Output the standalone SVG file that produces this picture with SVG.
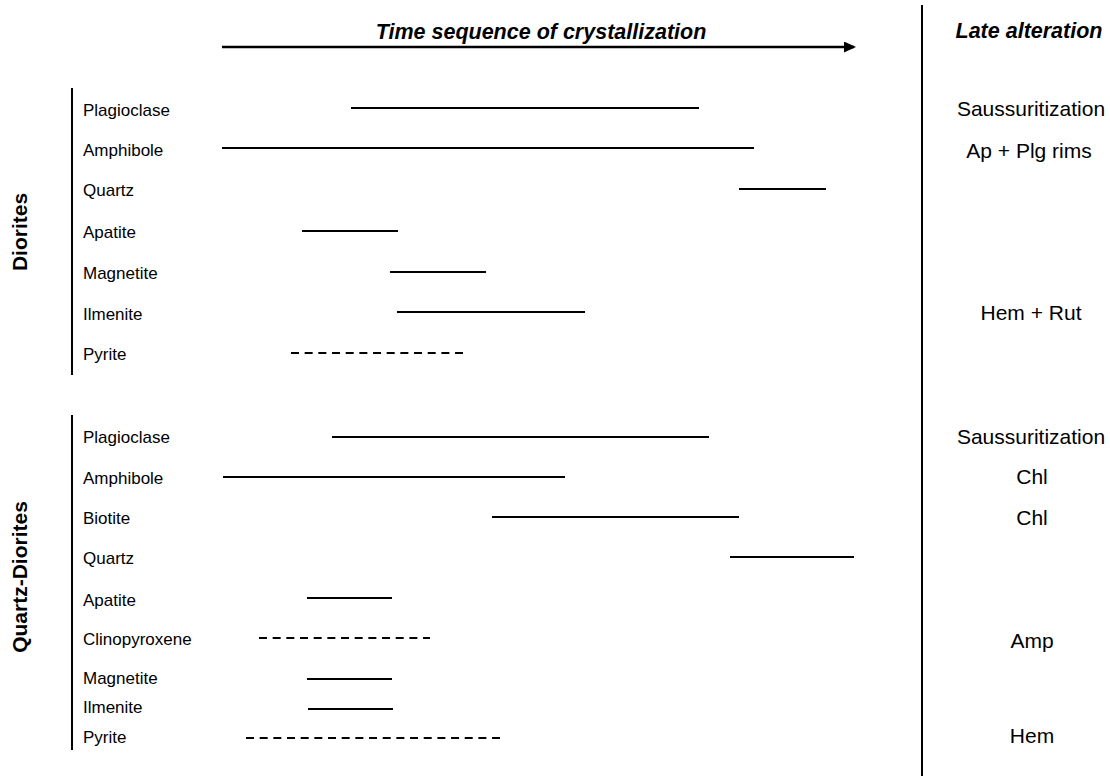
<svg xmlns="http://www.w3.org/2000/svg" width="1110" height="776" viewBox="0 0 1110 776">
<style>
.lbl{font-family:"Liberation Sans",Arial,sans-serif;font-size:17px;fill:#000}
.alt{font-family:"Liberation Sans",Arial,sans-serif;font-size:21px;fill:#000;text-anchor:middle}
.hd{font-family:"Liberation Sans",Arial,sans-serif;font-size:21.5px;font-weight:bold;font-style:italic;fill:#000;text-anchor:middle}
.grp{font-family:"Liberation Sans",Arial,sans-serif;font-size:21px;font-weight:bold;fill:#000;text-anchor:middle}
.bar{stroke:#000;stroke-width:2;fill:none}
.dash{stroke:#000;stroke-width:2;fill:none;stroke-dasharray:8 5.67}
.axis{stroke:#000;stroke-width:2;fill:none}
</style>
<defs>
<marker id="ah" markerWidth="12" markerHeight="12" refX="10" refY="5.5" orient="auto" markerUnits="userSpaceOnUse"><path d="M0,0 L12,5.5 L0,11 Z" fill="#000"/></marker>
</defs>
<rect width="1110" height="776" fill="#fff"/>
<g id="header">
<text class="hd" x="541" y="39">Time sequence of crystallization</text>
<line x1="222" y1="47" x2="854" y2="47" stroke="#000" stroke-width="2.5" marker-end="url(#ah)"/>
<text class="hd" x="1029" y="38">Late alteration</text>
<line class="axis" x1="922" y1="5" x2="922" y2="776"/>
</g>
<g id="diorites">
<text class="grp" transform="translate(27,232) rotate(-90)">Diorites</text>
<line class="axis" x1="72" y1="88" x2="72" y2="375"/>
<text class="lbl" x="83" y="116">Plagioclase</text>
<text class="lbl" x="83" y="156">Amphibole</text>
<text class="lbl" x="83" y="196">Quartz</text>
<text class="lbl" x="83" y="238">Apatite</text>
<text class="lbl" x="83" y="279">Magnetite</text>
<text class="lbl" x="83" y="320">Ilmenite</text>
<text class="lbl" x="83" y="360">Pyrite</text>
<text class="alt" x="1031" y="116">Saussuritization</text>
<text class="alt" x="1029" y="158">Ap + Plg rims</text>
<text class="alt" x="1031" y="320">Hem + Rut</text>
</g>
<g id="quartz-diorites">
<text class="grp" transform="translate(27,577) rotate(-90)">Quartz-Diorites</text>
<line class="axis" x1="72" y1="415" x2="72" y2="750"/>
<text class="lbl" x="83" y="443">Plagioclase</text>
<text class="lbl" x="83" y="484">Amphibole</text>
<text class="lbl" x="83" y="524">Biotite</text>
<text class="lbl" x="83" y="564">Quartz</text>
<text class="lbl" x="83" y="606">Apatite</text>
<text class="lbl" x="83" y="645">Clinopyroxene</text>
<text class="lbl" x="83" y="684">Magnetite</text>
<text class="lbl" x="83" y="713">Ilmenite</text>
<text class="lbl" x="83" y="743">Pyrite</text>
<text class="alt" x="1031" y="444">Saussuritization</text>
<text class="alt" x="1032" y="484">Chl</text>
<text class="alt" x="1032" y="525">Chl</text>
<text class="alt" x="1032" y="648">Amp</text>
<text class="alt" x="1032" y="743">Hem</text>
</g>
<g id="connectors">
<line class="bar" x1="351" y1="108" x2="699" y2="108"/>
<line class="bar" x1="222" y1="148" x2="754" y2="148"/>
<line class="bar" x1="739" y1="189" x2="826" y2="189"/>
<line class="bar" x1="302" y1="231" x2="398" y2="231"/>
<line class="bar" x1="390" y1="272" x2="486" y2="272"/>
<line class="bar" x1="397" y1="312" x2="585" y2="312"/>
<line class="dash" x1="291" y1="353" x2="463" y2="353"/>
<line class="bar" x1="332" y1="437" x2="709" y2="437"/>
<line class="bar" x1="223" y1="477" x2="565" y2="477"/>
<line class="bar" x1="492" y1="517" x2="739" y2="517"/>
<line class="bar" x1="730" y1="557" x2="854" y2="557"/>
<line class="bar" x1="307" y1="598" x2="392" y2="598"/>
<line class="dash" x1="259" y1="638" x2="430" y2="638"/>
<line class="bar" x1="307" y1="679" x2="392" y2="679"/>
<line class="bar" x1="308" y1="709" x2="393" y2="709"/>
<line class="dash" x1="246" y1="738" x2="500" y2="738"/>
</g>
</svg>
